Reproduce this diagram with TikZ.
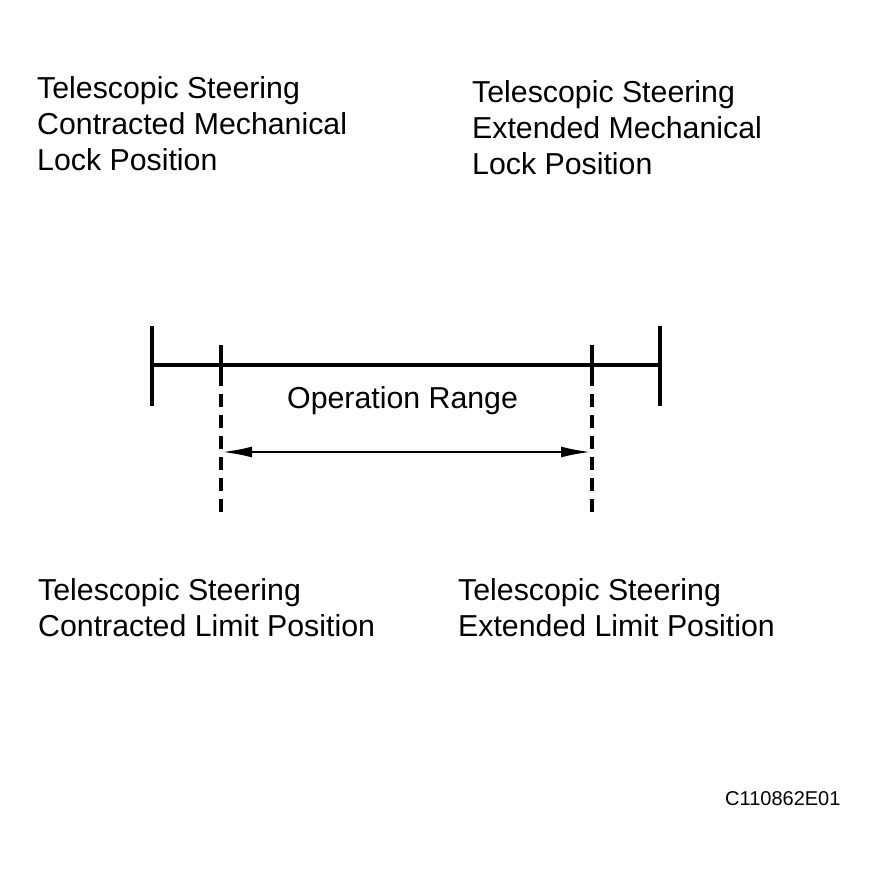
\documentclass[tikz,border=0pt]{standalone}
\usepackage{fontspec}
\setmainfont{Liberation Sans}
\usetikzlibrary{arrows.meta}

\tikzset{
  label text/.style={anchor=base west, inner sep=0pt, align=left,
    font=\fontsize{30.3}{36}\selectfont},
  end bar/.style={line width=4pt},
  limit line/.style={line width=3.5pt,
    dash pattern=on 41pt off 8pt on 13pt off 8pt on 13pt off 8pt on 13pt off 8pt
      on 13pt off 8pt on 13pt off 8pt on 13pt off 8pt}
}

\begin{document}
\begin{tikzpicture}[x=1pt, y=-1pt]
        \useasboundingbox (0, 0) rectangle (877, 878);

        % Mechanical lock ends
        \coordinate (lockL top) at (152, 326);
        \coordinate (lockL bot) at (152, 406);
        \coordinate (lockR top) at (660, 326);
        \coordinate (lockR bot) at (660, 406);
        \draw[end bar] (lockL top) -- (lockL bot);
        \draw[end bar] (lockR top) -- (lockR bot);

        % Steering travel line
        \coordinate (travelL) at (152, 365);
        \coordinate (travelR) at (660, 365);
        \draw[line width=3.5pt] (travelL) -- (travelR);

        % Limit positions (dashed)
        \coordinate (limitL top) at (221, 345);
        \coordinate (limitL bot) at (221, 512);
        \coordinate (limitR top) at (592, 345);
        \coordinate (limitR bot) at (592, 512);
        \draw[limit line] (limitL top) -- (limitL bot);
        \draw[limit line] (limitR top) -- (limitR bot);

        % Operation range arrow
        \coordinate (rangeL) at (222, 452);
        \coordinate (rangeR) at (591, 452);
        \draw[line width=2.5pt, {Latex[length=30pt,width=11pt]}-{Latex[length=30pt,width=11pt]}]
            (rangeL) -- (rangeR);
        \node[label text] (range) at (287, 408) {Operation Range};

        % Lock position labels (anchored at last line)
        \node[label text] (lockL) at (37, 170)
            {Telescopic Steering\\Contracted Mechanical\\Lock Position};
        \node[label text] (lockR) at (472, 174)
            {Telescopic Steering\\Extended Mechanical\\Lock Position};

        % Limit position labels
        \node[label text] (limitL) at (38, 636)
            {Telescopic Steering\\Contracted Limit Position};
        \node[label text] (limitR) at (458, 636)
            {Telescopic Steering\\Extended Limit Position};

        % Figure code
        \node[anchor=base west, inner sep=0pt, font=\fontsize{20}{24}\selectfont]
            (code) at (725, 805) {C110862E01};
\end{tikzpicture}
\end{document}
